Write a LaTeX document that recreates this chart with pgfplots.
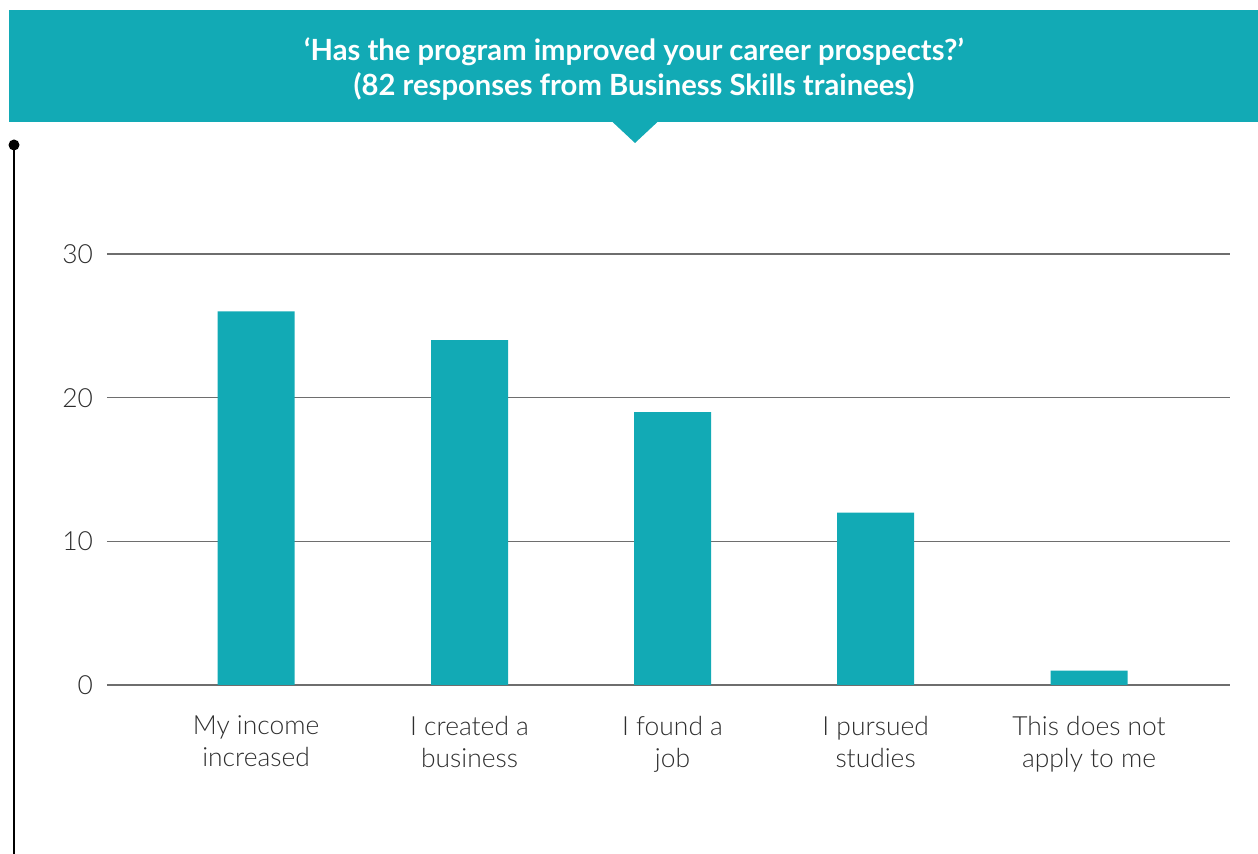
\documentclass[border=0pt]{standalone}
\usepackage{pgfplots}
\pgfplotsset{compat=1.18}
\usepackage{fontspec}
\setmainfont{Lato}
\newfontfamily\lightfont{Lato Light}
\definecolor{teal1}{HTML}{12AAB5}
\definecolor{txt}{HTML}{2E2E2E}
\definecolor{gridc}{HTML}{6E6E6E}
\begin{document}
\begin{tikzpicture}[x=0.5pt,y=0.5pt]
\path[use as bounding box] (0,0) rectangle (1258,854);
% banner
\fill[teal1] (9,844) rectangle (1258,732);
\fill[teal1] (612,732.5) -- (658,732.5) -- (635,711) -- cycle;
\node[text=white,font=\bfseries\fontsize{14.6}{17.5}\selectfont,align=center] at (634,785) {‘Has the program improved your career prospects?’\\(82 responses from Business Skills trainees)};
% left line
\draw[black,line width=1pt] (14,709) -- (14,0);
\fill[black] (14,709) circle (5.5);
\begin{axis}[
  at={(53.5pt,84.5pt)}, anchor=south west,
  scale only axis,
  width=561.5pt, height=215.5pt,
  xmin=-0.716, xmax=4.677,
  ymin=0, ymax=30,
  axis line style={draw=none},
  major tick length=0pt,
  ytick={0,10,20,30},
  ymajorgrids,
  grid style={gridc, line width=0.8pt},
  xtick={0,1.025,2,2.975,4},
  xticklabels={{My income\\increased},{I created a\\business},{I found a\\job},{I pursued\\studies},{This does not\\apply to me}},
  xticklabel style={align=center, yshift=-12pt},
  yticklabel style={xshift=-3.5pt},
  tick label style={font=\lightfont\fontsize{13.2}{16}\selectfont, text=txt},
  /pgf/number format/assume math mode=true,
  ybar, bar width=38.5pt,
  clip=false,
]
\addplot[fill=teal1, draw=none] coordinates {(0,26) (1.025,24) (2,19) (2.975,12) (4,1)};
\end{axis}
\end{tikzpicture}
\end{document}
